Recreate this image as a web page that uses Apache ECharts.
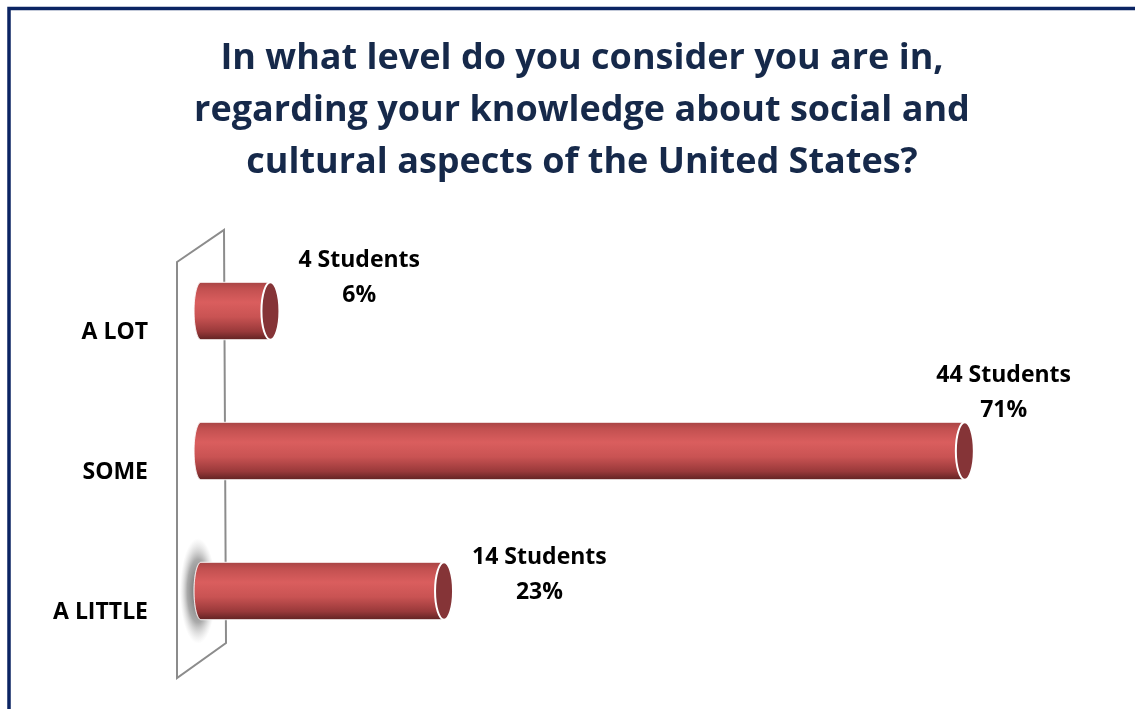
<!DOCTYPE html>
<html>
<head>
<meta charset="utf-8">
<script src="https://cdn.jsdelivr.net/npm/echarts@6/dist/echarts.min.js"></script>
<style>
  html, body { margin: 0; padding: 0; background: #ffffff; }
  #chart { width: 1135px; height: 709px; }
</style>
</head>
<body>
<div id="chart"></div>
<script>
// Survey answers: knowledge of U.S. social and cultural aspects
const levels = ['A LOT', 'SOME', 'A LITTLE'];
const students = [4, 44, 14];
const percents = [6, 71, 23];

// Vertical lift (px) of each value label above its bar centre
const labelLift = [33, 58, 16];
// Row whose cylinder base casts a soft shadow on the wall
const shadowRow = 'A LITTLE';

const FONT = '"Open Sans", "Noto Sans", sans-serif';
const LABEL_SIZE = 23;
const LABEL_LINE = 35;
const LABEL_RIGHT_LIMIT = 1071;

const measureCtx = document.createElement('canvas').getContext('2d');
function textWidth(str, size) {
  measureCtx.font = 'bold ' + size + 'px ' + FONT;
  return measureCtx.measureText(str).width;
}

const bodyGradient = () => new echarts.graphic.LinearGradient(0, 0, 0, 1, [
  { offset: 0, color: '#A64444' },
  { offset: 0.12, color: '#C25050' },
  { offset: 0.35, color: '#DA5E5E' },
  { offset: 0.6, color: '#C95353' },
  { offset: 0.85, color: '#99393A' },
  { offset: 1, color: '#5E2222' }
]);

function renderCylinder(params, api) {
  const val = api.value(0);
  const cat = api.value(1);
  const start = api.coord([0, cat]);
  const end = api.coord([val, cat]);
  const h = api.size([0, 1])[1] * 0.41;
  const top = start[1] - h / 2;
  const bot = start[1] + h / 2;
  const rxL = 7;
  const rxR = 9;
  const x0 = start[0];
  const xe = end[0];
  const my = start[1];
  const ry = h / 2;
  const children = [];

  if (levels[params.dataIndex] === shadowRow) {
    // soft grey glow round the base, a circle stretched vertically
    const r = 18;
    children.push({
      type: 'circle',
      x: x0 - 3,
      y: my,
      scaleY: (ry + 24) / r,
      shape: { cx: 0, cy: 0, r: r },
      style: {
        fill: new echarts.graphic.RadialGradient(0.5, 0.5, 0.5, [
          { offset: 0, color: 'rgba(85,85,85,0.95)' },
          { offset: 0.6, color: 'rgba(125,125,125,0.65)' },
          { offset: 1, color: 'rgba(190,190,190,0)' }
        ])
      },
      z2: 1
    });
  }

  // body with a rounded (elliptical) near end
  const k = 0.5523;
  const d = [
    'M', x0, top,
    'L', xe, top,
    'L', xe, bot,
    'L', x0, bot,
    'C', x0 - rxL * k, bot, x0 - rxL, my + ry * k, x0 - rxL, my,
    'C', x0 - rxL, my - ry * k, x0 - rxL * k, top, x0, top,
    'Z'
  ].join(' ');
  children.push({
    type: 'path',
    shape: { pathData: d },
    style: { fill: bodyGradient(), stroke: 'rgba(255,255,255,0.6)', lineWidth: 1 },
    z2: 2
  });
  // far end cap
  children.push({
    type: 'ellipse',
    shape: { cx: xe, cy: my, rx: rxR, ry: ry },
    style: { fill: '#853437', stroke: '#ffffff', lineWidth: 2 },
    z2: 3
  });

  // value label: student count and share
  const line1 = students[params.dataIndex] + ' Students';
  const line2 = percents[params.dataIndex] + '%';
  const w = Math.max(textWidth(line1, LABEL_SIZE), textWidth(line2, LABEL_SIZE));
  let left = xe + rxR + 19;
  if (left + w > LABEL_RIGHT_LIMIT) left = LABEL_RIGHT_LIMIT - w;
  const cy = my - labelLift[params.dataIndex];
  children.push({
    type: 'text',
    x: left + w / 2,
    y: cy,
    style: {
      text: line1 + '\n' + line2,
      fill: '#000000',
      font: 'bold ' + LABEL_SIZE + 'px ' + FONT,
      lineHeight: LABEL_LINE,
      align: 'center',
      verticalAlign: 'middle'
    },
    z2: 4
  });

  return { type: 'group', children: children };
}

const chart = echarts.init(document.getElementById('chart'), null, { renderer: 'canvas' });

const option = {
  backgroundColor: '#ffffff',
  animation: false,
  title: {
    text: 'In what level do you consider you are in,\nregarding your knowledge about social and\ncultural aspects of the United States?',
    left: 577,
    top: 28,
    textAlign: 'center',
    textStyle: {
      fontFamily: FONT,
      fontWeight: 'bold',
      fontSize: 36,
      lineHeight: 52,
      color: '#16294A'
    }
  },
  grid: { left: 201, right: 66, top: 241, bottom: 48 },
  xAxis: {
    type: 'value',
    min: 0,
    max: 50,
    show: false
  },
  yAxis: {
    type: 'category',
    data: levels,
    inverse: true,
    axisLine: { show: false },
    axisTick: { show: false },
    splitLine: { show: false },
    axisLabel: {
      margin: 53,
      color: '#000000',
      fontFamily: FONT,
      fontWeight: 'bold',
      fontSize: 23,
      lineHeight: 42,
      // blank first line drops the name below the bar centre
      formatter: (v) => '\n' + v
    }
  },
  series: [{
    type: 'custom',
    z: 3,
    renderItem: renderCylinder,
    encode: { x: 0, y: 1 },
    data: students.map((v, i) => [v, i])
  }]
};

chart.setOption(option);

// Frame and the perspective wall behind the bars, placed from the grid geometry
const zeroTop = chart.convertToPixel({ gridIndex: 0 }, [0, 0]);
const zeroBot = chart.convertToPixel({ gridIndex: 0 }, [0, levels.length - 1]);
const band = (zeroBot[1] - zeroTop[1]) / (levels.length - 1);
const gTop = zeroTop[1] - band / 2;
const gBot = zeroBot[1] + band / 2;
const zx = zeroTop[0];
const half = 24;

chart.setOption({
  graphic: [
    {
      type: 'polygon',
      z: 1,
      shape: {
        points: [
          [zx - half, gTop + 21],
          [zx + half - 1, gTop - 11],
          [zx + half + 1, gBot - 18],
          [zx - half, gBot + 17]
        ]
      },
      style: { fill: 'rgba(255,255,255,0)', stroke: '#8C8C8C', lineWidth: 2 }
    },
    {
      type: 'rect',
      z: 10,
      shape: { x: 9, y: 8.5, width: 1160, height: 760 },
      style: { fill: 'none', stroke: '#0B2463', lineWidth: 3.5 }
    }
  ]
});
</script>
</body>
</html>
